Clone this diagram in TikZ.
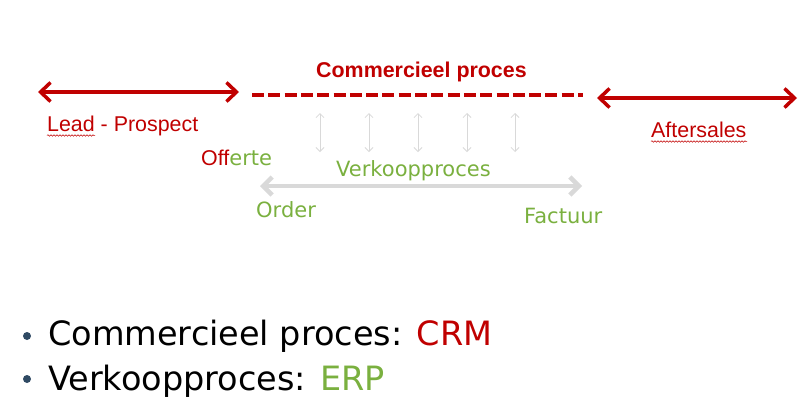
\documentclass[tikz,border=0pt]{standalone}
\usepackage{fontspec}
\setmainfont{Liberation Sans}
\newfontfamily\verd{DejaVu Sans}
\usetikzlibrary{arrows.meta,decorations.pathmorphing}
\definecolor{crmred}{HTML}{C00000}
\definecolor{erpgreen}{HTML}{7AB03F}
\definecolor{lgray}{HTML}{D9D9D9}
\definecolor{bulletblue}{HTML}{2F4A63}
\tikzset{
  bigarrow/.style={line width=3.5pt,{Straight Barb[length=10pt,width=19pt]}-{Straight Barb[length=10pt,width=19pt]}},
  redarrow/.style={bigarrow,draw=crmred},
  grayarrow/.style={line width=4.5pt,draw=lgray,{Straight Barb[length=9pt,width=18pt]}-{Straight Barb[length=9pt,width=18pt]}},
  smallarrow/.style={line width=0.8pt,draw=lgray,{Straight Barb[length=4pt,width=8pt]}-{Straight Barb[length=4pt,width=8pt]}},
  lbl/.style={inner sep=0pt,anchor=base west,font=\fontsize{21.4}{24}\selectfont},
  glbl/.style={inner sep=0pt,anchor=base west,font=\verd\fontsize{21}{24}\selectfont,text=erpgreen},
  bul/.style={inner sep=0pt,anchor=base west,font=\verd\fontsize{33.5}{38}\selectfont},
  squiggle/.style={draw=crmred,line width=0.5pt,decorate,decoration={snake,amplitude=0.8pt,segment length=3pt}}
}
\begin{document}
\begin{tikzpicture}[x=1pt,y=-1pt]
\useasboundingbox (0,0) rectangle (806,408);
% coordinates
\coordinate (lpA) at (38,92);
\coordinate (lpB) at (239,92);
\coordinate (cpA) at (252,95);
\coordinate (cpB) at (583,95);
\coordinate (asA) at (597,98);
\coordinate (asB) at (797,98);
\coordinate (vpA) at (260,186);
\coordinate (vpB) at (582,186);
% red arrows
\draw[redarrow] (lpA) -- (lpB);
\draw[redarrow] (asA) -- (asB);
\draw[crmred,line width=3.8pt,dash pattern=on 12pt off 4.3pt] (cpA) -- (cpB);
% small gray arrows
\foreach \i/\x in {1/320,2/369,3/418,4/467,5/515}{
  \coordinate (s\i t) at (\x,113);
  \coordinate (s\i b) at (\x,152);
  \draw[smallarrow] (s\i t) -- (s\i b);
}
% gray big arrow
\draw[grayarrow] (vpA) -- (vpB);
% labels
\node[lbl,font=\bfseries\fontsize{21.4}{24}\selectfont,text=crmred] (cp) at (316,77) {Commercieel proces};
\node[lbl,text=crmred] (lead) at (47,131) {Lead - Prospect};
\node[lbl,text=crmred] (after) at (651,137) {Aftersales};
\node[lbl] (off) at (201,165) {\textcolor{crmred}{Off}\textcolor{erpgreen}{\verd\fontsize{21}{24}\selectfont erte}};
\node[glbl] (vp) at (336,176) {Verkoopproces};
\node[glbl] (order) at (256,217) {Order};
\node[glbl] (fact) at (524,223) {Factuur};
% spell squiggles
\coordinate (sqA) at (47,135.5);
\coordinate (sqB) at (95,135.5);
\coordinate (sqC) at (651,141.5);
\coordinate (sqD) at (747,141.5);
\draw[squiggle] (sqA) -- (sqB);
\draw[squiggle] (sqC) -- (sqD);
% bullets
\node[circle,fill=bulletblue,inner sep=0pt,minimum size=8pt] (b1) at (27,336) {};
\node[circle,fill=bulletblue,inner sep=0pt,minimum size=8pt] (b2) at (27,379) {};
\node[bul] (t1) at (48,345) {Commercieel proces: \textcolor{crmred}{CRM}};
\node[bul] (t2) at (48,390) {Verkoopproces: \textcolor{erpgreen}{ERP}};
\end{tikzpicture}
\end{document}
